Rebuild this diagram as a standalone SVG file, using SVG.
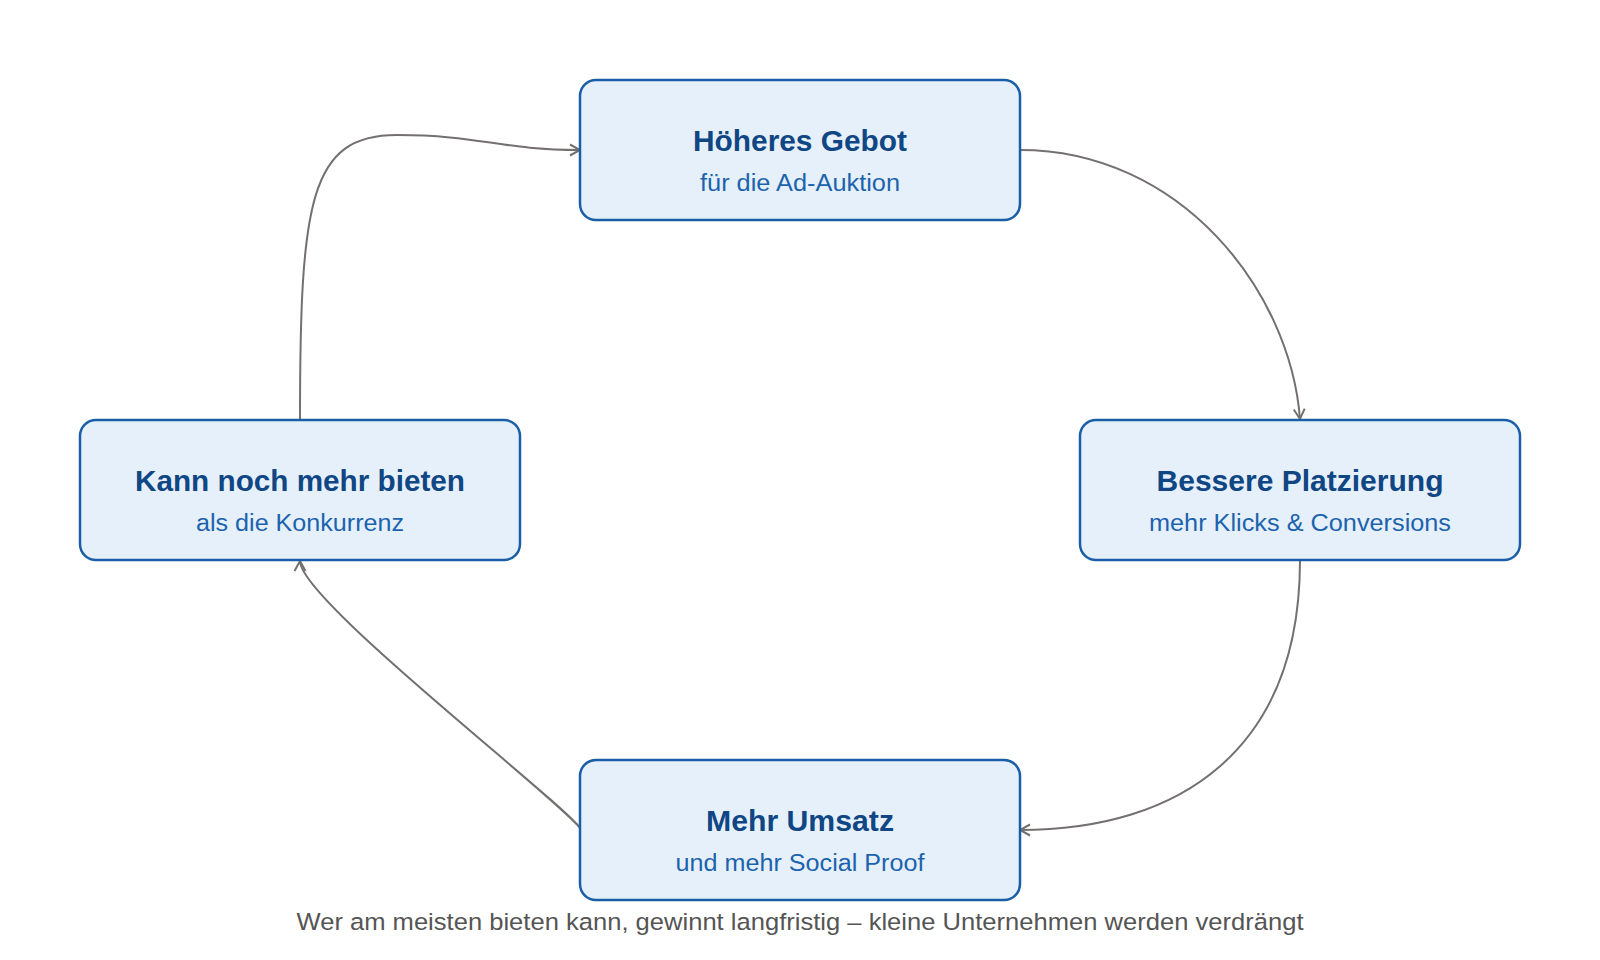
<svg xmlns="http://www.w3.org/2000/svg" width="1600" height="960" viewBox="0 0 1600 960">
  <style>
    .box { fill: #e6f0fb; stroke: #1a5ea8; stroke-width: 2.5; }
    .title { font-family: "Liberation Sans", Arial, sans-serif; font-weight: bold; font-size: 29px; fill: #0f4683; text-anchor: middle; }
    .sub { font-family: "Liberation Sans", Arial, sans-serif; font-size: 23px; fill: #1c63ad; text-anchor: middle; }
    .edge { fill: none; stroke: #757070; stroke-width: 2; marker-end: url(#arrow); }
    .caption { font-family: "Liberation Sans", Arial, sans-serif; font-size: 24.5px; fill: #555555; text-anchor: middle; }
  </style>
  <defs>
    <marker id="arrow" markerUnits="userSpaceOnUse" markerWidth="14" markerHeight="14" viewBox="0 0 14 14" refX="12" refY="7" orient="auto">
      <path d="M2,1.5 L12,7 L2,12.5" fill="none" stroke="#757070" stroke-width="2"/>
    </marker>
  </defs>
  <rect width="1600" height="960" fill="#ffffff"/>
  <g id="connectors">
    <path class="edge" d="M1020,150 C1180,150 1290,290 1300,419"/>
    <path class="edge" d="M1300,560 C1300,750 1180,830 1020,830"/>
    <path class="edge" d="M580,828 C560,800 300,600 300,561"/>
    <path class="edge" d="M300,419 C300,200 310,135 397,135 C480,135 500,150 580,150"/>
  </g>
  <g id="node-gebot">
    <rect class="box" x="580" y="80" width="440" height="140" rx="16"/>
    <text class="title" x="800" y="151" textLength="214" lengthAdjust="spacingAndGlyphs">Höheres Gebot</text>
    <text class="sub" x="800" y="191" textLength="200" lengthAdjust="spacingAndGlyphs">für die Ad-Auktion</text>
  </g>
  <g id="node-platzierung">
    <rect class="box" x="1080" y="420" width="440" height="140" rx="16"/>
    <text class="title" x="1300" y="491" textLength="287" lengthAdjust="spacingAndGlyphs">Bessere Platzierung</text>
    <text class="sub" x="1300" y="531" textLength="302" lengthAdjust="spacingAndGlyphs">mehr Klicks &amp; Conversions</text>
  </g>
  <g id="node-umsatz">
    <rect class="box" x="580" y="760" width="440" height="140" rx="16"/>
    <text class="title" x="800" y="831" textLength="188" lengthAdjust="spacingAndGlyphs">Mehr Umsatz</text>
    <text class="sub" x="800" y="871" textLength="249" lengthAdjust="spacingAndGlyphs">und mehr Social Proof</text>
  </g>
  <g id="node-bieten">
    <rect class="box" x="80" y="420" width="440" height="140" rx="16"/>
    <text class="title" x="300" y="491" textLength="330" lengthAdjust="spacingAndGlyphs">Kann noch mehr bieten</text>
    <text class="sub" x="300" y="531" textLength="208" lengthAdjust="spacingAndGlyphs">als die Konkurrenz</text>
  </g>
  <text class="caption" x="800" y="930" textLength="1007" lengthAdjust="spacingAndGlyphs">Wer am meisten bieten kann, gewinnt langfristig – kleine Unternehmen werden verdrängt</text>
</svg>
